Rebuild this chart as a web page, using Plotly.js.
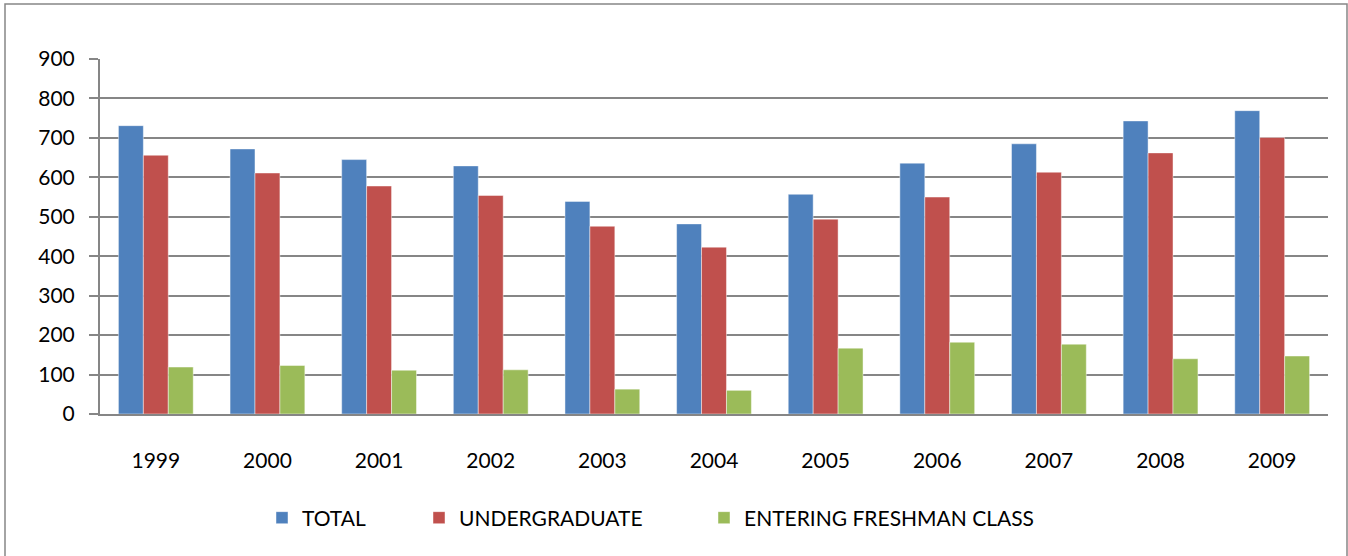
<!DOCTYPE html>
<html>
<head>
<meta charset="utf-8">
<script src="https://cdn.plot.ly/plotly-3.0.1.min.js"></script>
<style>html,body{margin:0;padding:0;background:#fff;}#chart{width:1348px;height:556px;}</style>
</head>
<body>
<div id="chart"></div>
<script>
const years = ['1999','2000','2001','2002','2003','2004','2005','2006','2007','2008','2009'];
const total = [731, 672, 645, 629, 539, 482, 557, 636, 685, 743, 769];
const undergraduate = [656, 611, 578, 554, 476, 423, 494, 550, 613, 662, 701];
const freshman = [119, 123, 111, 112, 63, 60, 167, 182, 177, 140, 147];
const seriesNames = ['TOTAL', 'UNDERGRADUATE', 'ENTERING FRESHMAN CLASS'];
const colors = ['#4F81BD', '#C0504D', '#9BBB59'];
const yTicks = [0, 100, 200, 300, 400, 500, 600, 700, 800, 900];

const W = 1348, H = 556;
const M = {l: 100, r: 20, t: 59, b: 142};
const pw = W - M.l - M.r, ph = H - M.t - M.b;
const px = v => (v - M.l) / pw;
const py = v => (H - M.b - v) / ph;

const series = [total, undergraduate, freshman];
const legendKeys = ['legend', 'legend2', 'legend3'];
const traces = series.map((vals, i) => ({
  type: 'bar',
  x: years,
  y: vals,
  name: seriesNames[i],
  legend: legendKeys[i],
  marker: {color: colors[i], line: {color: 'rgba(255,255,255,0.45)', width: 1}},
  hoverinfo: 'x+y+name'
}));

const font = {family: 'Lato, "Open Sans", sans-serif', size: 21, color: '#000'};
const legendBase = {orientation: 'h', yanchor: 'middle', xanchor: 'left', y: py(518),
  bgcolor: 'rgba(0,0,0,0)', font: font, itemwidth: 30, borderwidth: 0};

const layout = {
  width: W, height: H,
  margin: M,
  paper_bgcolor: '#fff', plot_bgcolor: '#fff',
  font: font,
  barmode: 'group',
  bargap: 0.33,
  bargroupgap: 0,
  showlegend: true,
  xaxis: {
    type: 'category',
    showgrid: false,
    showline: true, linecolor: '#868686', linewidth: 2,
    ticks: '', ticklabelstandoff: 27,
    tickfont: font,
    fixedrange: true
  },
  yaxis: {
    range: [0, 900],
    tickvals: yTicks,
    ticktext: yTicks.map(String),
    showgrid: true, gridcolor: '#868686', gridwidth: 2,
    showline: true, linecolor: '#868686', linewidth: 2,
    ticks: 'outside', ticklen: 9, tickwidth: 2, tickcolor: '#868686',
    ticklabelstandoff: 10,
    tickfont: font,
    zeroline: false,
    fixedrange: true
  },
  legend: Object.assign({}, legendBase, {x: px(262)}),
  legend2: Object.assign({}, legendBase, {x: px(419)}),
  legend3: Object.assign({}, legendBase, {x: px(704)}),
  shapes: [{
    type: 'rect', xref: 'paper', yref: 'paper',
    x0: px(5), x1: px(1347), y0: py(560), y1: py(4),
    line: {color: '#868686', width: 1.5}, fillcolor: 'rgba(0,0,0,0)', layer: 'below'
  }]
};

Plotly.newPlot('chart', traces, layout, {displayModeBar: false, staticPlot: true});
</script>
</body>
</html>
